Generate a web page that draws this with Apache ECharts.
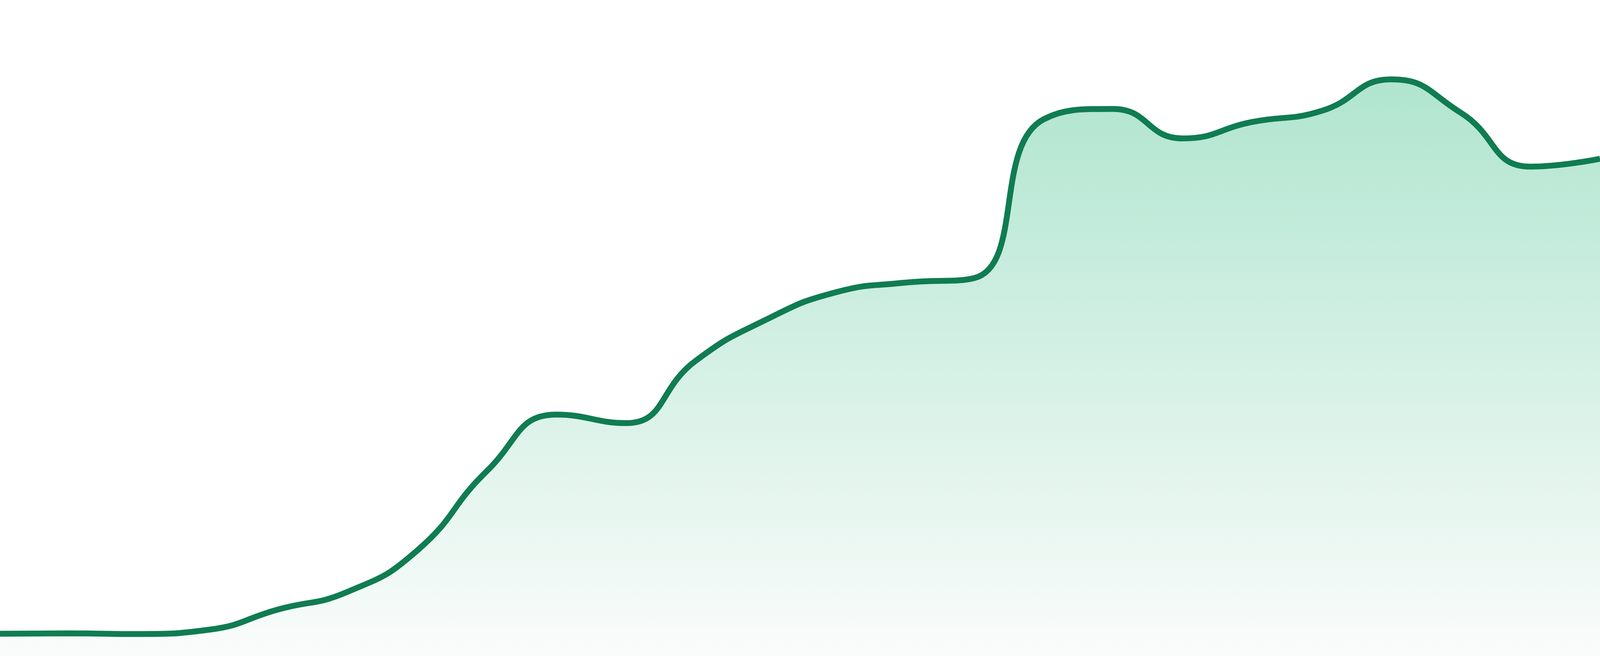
<!DOCTYPE html>
<html>
<head>
<meta charset="utf-8">
<title>Area sparkline</title>
<script src="https://cdn.jsdelivr.net/npm/echarts@6/dist/echarts.min.js"></script>
<style>
  html, body { margin: 0; padding: 0; background: #ffffff; overflow: hidden; }
  #chart { width: 100vw; height: 100vh; }
</style>
</head>
<body>
<div id="chart"></div>
<script>
// 24 evenly spaced points (0 = bottom edge, 100 = top edge)
const categories = ['1', '2', '3', '4', '5', '6', '7', '8', '9', '10', '11', '12',
  '13', '14', '15', '16', '17', '18', '19', '20', '21', '22', '23', '24']
const values = [3.4, 3.45, 3.35, 4.0, 7.1, 9.8, 16.1, 28.2, 36.8, 35.5, 45.0, 51.2,
  55.4, 56.9, 57.6, 81.8, 83.4, 78.9, 81.4, 83.1, 87.9, 82.8, 74.6, 75.8]

const chart = echarts.init(document.getElementById('chart'))

const option = {
  animation: false,
  grid: { left: 0, right: 0, top: 0, bottom: 0 },
  xAxis: {
    type: 'category',
    data: categories,
    boundaryGap: false,
    show: false
  },
  yAxis: {
    type: 'value',
    min: 0,
    max: 100,
    show: false
  },
  series: [{
    type: 'line',
    data: values,
    smooth: true,
    symbol: 'none',
    lineStyle: { color: '#107c52', width: 15 },
    areaStyle: {
      opacity: 1,
      // fades from pale green under the peak to almost white at the bottom
      color: new echarts.graphic.LinearGradient(0, 0, 0, 1, [
        { offset: 0, color: 'rgb(176, 229, 207)' },
        { offset: 1, color: 'rgb(250, 252, 251)' }
      ])
    }
  }]
}

chart.setOption(option)
window.onresize = () => {
  chart.resize()
}
</script>
</body>
</html>
